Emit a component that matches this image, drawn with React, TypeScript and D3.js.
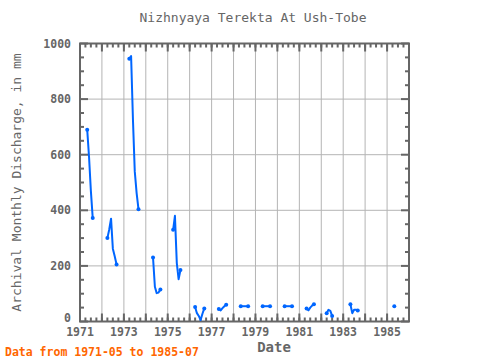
import React from 'react';
import * as d3 from 'd3';

// observed months and discharge values (gaps = no data)
const months = [
  '1971-05', '1971-06', '1971-07', '1971-08',
  '1972-04', '1972-05', '1972-06', '1972-07', '1972-08', '1972-09',
  '1973-04', '1973-05', '1973-06', '1973-07', '1973-08', '1973-09',
  '1974-05', '1974-06', '1974-07', '1974-08', '1974-09',
  '1975-04', '1975-05', '1975-06', '1975-07', '1975-08',
  '1976-04', '1976-05', '1976-06', '1976-07', '1976-08', '1976-09',
  '1977-05', '1977-06', '1977-07', '1977-08', '1977-09',
  '1978-05', '1978-06', '1978-07', '1978-08', '1978-09',
  '1979-05', '1979-06', '1979-07', '1979-08', '1979-09',
  '1980-05', '1980-06', '1980-07', '1980-08', '1980-09',
  '1981-05', '1981-06', '1981-07', '1981-08', '1981-09',
  '1982-04', '1982-05', '1982-06', '1982-07',
  '1983-05', '1983-06', '1983-07', '1983-08', '1983-09',
  '1985-05',
];
const discharge = [
  690, 590, 470, 372,
  300, 330, 370, 262, 235, 205,
  945, 955, 725, 540, 462, 404,
  230, 125, 102, 104, 115,
  330, 380, 210, 152, 185,
  52, 30, 20, 5, 28, 47,
  45, 40, 48, 55, 60,
  55, 55, 55, 55, 55,
  55, 55, 55, 55, 55,
  55, 55, 55, 55, 55,
  47, 40, 50, 57, 62,
  30, 42, 38, 20,
  62, 30, 42, 42, 40,
  55,
];
const yTicks = [0, 200, 400, 600, 800, 1000];
const xLabelYears = [1971, 1973, 1975, 1977, 1979, 1981, 1983, 1985];

const grey = '#666';
const font = 'DejaVu Sans Mono, monospace';

export default function App() {
  const left = 80, right = 409, top = 43.5, bottom = 321.5;
  const parse = d3.timeParse('%Y-%m');
  const pts = months.map((m, i) => ({ date: parse(m) as Date, value: discharge[i] }));

  // split into runs of consecutive months
  const segments: { date: Date; value: number }[][] = [];
  pts.forEach((p, i) => {
    const prev = pts[i - 1];
    if (!prev || d3.timeMonth.count(prev.date, p.date) > 1) segments.push([]);
    segments[segments.length - 1].push(p);
  });
  const ends = segments.flatMap(s => (s.length > 1 ? [s[0], s[s.length - 1]] : [s[0]]));

  const x = d3.scaleTime().domain([new Date(1971, 0, 1), new Date(1986, 0, 1)]).range([left, right]);
  const y = d3.scaleLinear().domain([0, 1000]).range([bottom, top]);
  const line = d3.line<{ date: Date; value: number }>().x(d => x(d.date)).y(d => y(d.value));

  const years = d3.timeYear.range(new Date(1971, 0, 1), new Date(1986, 0, 2));
  const quarters = d3.timeMonth.every(3)!.range(new Date(1971, 0, 1), new Date(1986, 0, 2));
  const minorY = d3.range(0, 1001, 50);

  return (
    <svg width={480} height={360} style={{ display: 'block', position: 'absolute', left: 0, top: 0 }}>
      <rect width={480} height={360} fill="#fff" />
      {/* grid */}
      {years.map((d, i) => (
        <line key={'gx' + i} x1={x(d)} x2={x(d)} y1={top} y2={bottom} stroke="#b4b4b4" strokeWidth={1} />
      ))}
      {yTicks.map(v => (
        <line key={'gy' + v} x1={left} x2={right} y1={y(v)} y2={y(v)} stroke="#b4b4b4" strokeWidth={1} />
      ))}
      {/* ticks */}
      {quarters.map((d, i) => (
        <g key={'qx' + i} stroke={grey} strokeWidth={2}>
          <line x1={x(d)} x2={x(d)} y1={top} y2={top + 4} />
          <line x1={x(d)} x2={x(d)} y1={bottom} y2={bottom - 4} />
        </g>
      ))}
      {years.map((d, i) => (
        <g key={'mx' + i} stroke={grey} strokeWidth={2}>
          <line x1={x(d)} x2={x(d)} y1={top} y2={top + 8} />
          <line x1={x(d)} x2={x(d)} y1={bottom} y2={bottom - 8} />
        </g>
      ))}
      {minorY.map(v => (
        <g key={'my' + v} stroke={grey} strokeWidth={2}>
          <line x1={left} x2={left + (v % 200 === 0 ? 8 : 4)} y1={y(v)} y2={y(v)} />
          <line x1={right} x2={right - (v % 200 === 0 ? 8 : 4)} y1={y(v)} y2={y(v)} />
        </g>
      ))}
      <rect x={left} y={top} width={right - left} height={bottom - top} fill="none" stroke={grey} strokeWidth={2} />
      {/* data */}
      {segments.map((s, i) => (
        <path key={'s' + i} d={line(s) || ''} fill="none" stroke="#0066ff" strokeWidth={2} strokeLinejoin="round" />
      ))}
      {ends.map((p, i) => (
        <circle key={'p' + i} cx={x(p.date)} cy={y(p.value)} r={2} fill="#0066ff" />
      ))}
      {/* tick labels */}
      {yTicks.map(v => (
        <text key={'ly' + v} x={71} y={y(v) + (v === 0 ? 0 : 4)} textAnchor="end" fontFamily={font} fontSize={11.5} fontWeight="bold" fill={grey}>{v}</text>
      ))}
      {xLabelYears.map(yr => (
        <text key={'lx' + yr} x={x(new Date(yr, 0, 1))} y={336} textAnchor="middle" fontFamily={font} fontSize={11.5} fontWeight="bold" fill={grey}>{yr}</text>
      ))}
      <text x={253} y={22} textAnchor="middle" fontFamily={font} fontSize={13} fill={grey}>Nizhnyaya Terekta At Ush-Tobe</text>
      <text transform={`translate(21,${(top + bottom) / 2}) rotate(-90)`} textAnchor="middle" fontFamily={font} fontSize={13} fill={grey}>Archival Monthly Discharge, in mm</text>
      <text x={274} y={352} textAnchor="middle" fontFamily={font} fontSize={14} fontWeight="bold" fill={grey}>Date</text>
      <text x={5} y={356} fontFamily={font} fontSize={11.5} fontWeight="bold" fill="#ff6600">Data from 1971-05 to 1985-07</text>
    </svg>
  );
}
